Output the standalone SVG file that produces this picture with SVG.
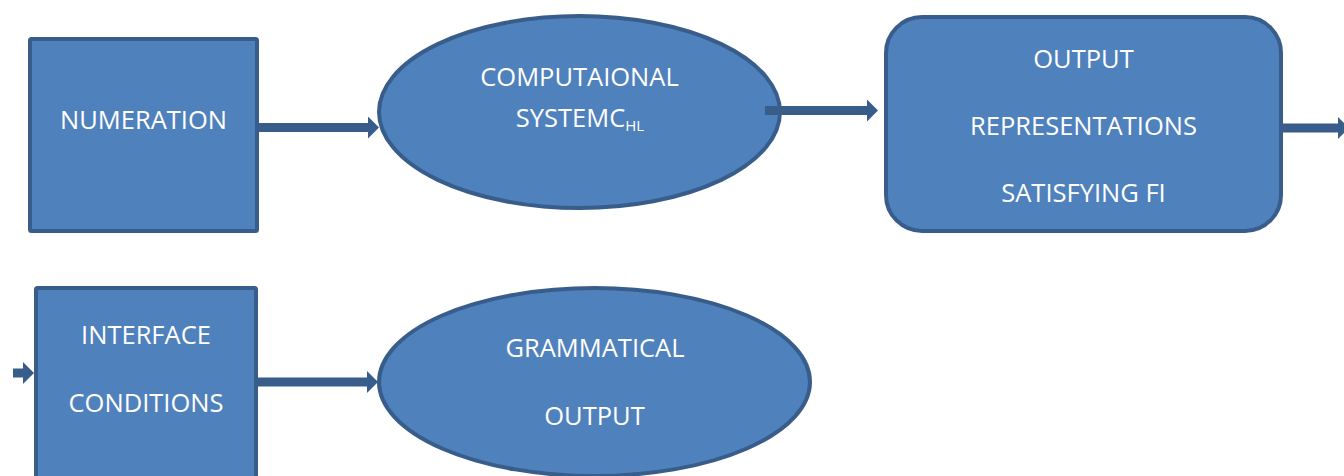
<svg xmlns="http://www.w3.org/2000/svg" width="1344" height="476" viewBox="0 0 1344 476">
  <style>
    .shape { fill: #4F81BD; stroke: #385D8A; stroke-width: 4; }
    .label { font-family: "Open Sans", "Liberation Sans", sans-serif; font-size: 25.5px; fill: #FFFFFF; text-anchor: middle; }
    .sub { font-size: 15px; }
    .conn { stroke: #385D8A; stroke-width: 9; fill: none; marker-end: url(#head); }
  </style>
  <defs>
    <marker id="head" markerUnits="userSpaceOnUse" viewBox="0 0 11 22" markerWidth="11" markerHeight="22" refX="0" refY="11" orient="auto">
      <path d="M0,0 L11,11 L0,22 Z" fill="#385D8A"/>
    </marker>
  </defs>

  <rect width="1344" height="476" fill="#FFFFFF"/>

  <g id="numeration">
    <rect class="shape" x="30" y="39" width="227" height="192" rx="1.5"/>
    <text class="label" x="143.5" y="129">NUMERATION</text>
  </g>

  <g id="computational-system">
    <ellipse class="shape" cx="579.5" cy="112" rx="200.5" ry="96"/>
    <text class="label" x="579.5" y="86">COMPUTAIONAL</text>
    <text class="label" x="580" y="127">SYSTEMC<tspan class="sub" dy="4">HL</tspan></text>
  </g>

  <g id="output-representations">
    <rect class="shape" x="886" y="17" width="395" height="214" rx="36"/>
    <text class="label" x="1083.5" y="68">OUTPUT</text>
    <text class="label" x="1083.5" y="135">REPRESENTATIONS</text>
    <text class="label" x="1083.5" y="202">SATISFYING FI</text>
  </g>

  <g id="interface-conditions">
    <rect class="shape" x="36" y="288" width="220" height="200" rx="1.5"/>
    <text class="label" x="146" y="344">INTERFACE</text>
    <text class="label" x="146" y="412">CONDITIONS</text>
  </g>

  <g id="grammatical-output">
    <ellipse class="shape" cx="594.5" cy="382" rx="215.5" ry="94"/>
    <text class="label" x="595" y="357">GRAMMATICAL</text>
    <text class="label" x="594.5" y="425">OUTPUT</text>
  </g>

  <!-- connectors, drawn over the shapes they leave from -->
  <g id="connectors">
    <line class="conn" x1="259" y1="127.5" x2="368" y2="127.5"/>
    <line class="conn" x1="765" y1="110.5" x2="867" y2="110.5"/>
    <line class="conn" x1="1283" y1="128" x2="1338" y2="128"/>
    <line class="conn" x1="13" y1="373" x2="23" y2="373"/>
    <line class="conn" x1="258" y1="382" x2="367" y2="382"/>
  </g>
</svg>
